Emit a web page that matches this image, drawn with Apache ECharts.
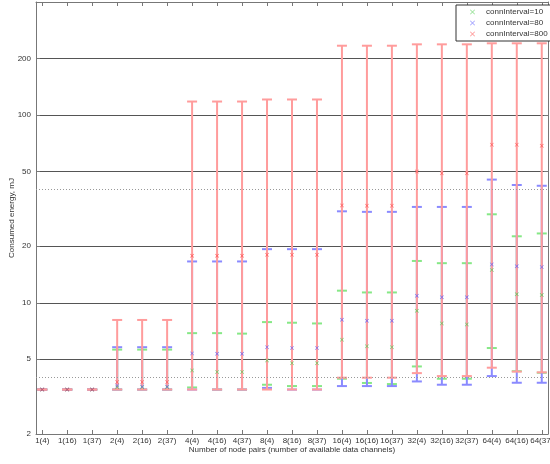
<!DOCTYPE html>
<html><head><meta charset="utf-8">
<script src="https://cdn.jsdelivr.net/npm/echarts@6/dist/echarts.min.js"></script>
<style>html,body{margin:0;padding:0;background:#fff}#c{width:550px;height:464px}</style>
</head><body><div id="c"></div>
<script>
const categories = ['1(4)','1(16)','1(37)','2(4)','2(16)','2(37)','4(4)','4(16)','4(37)','8(4)','8(16)','8(37)','16(4)','16(16)','16(37)','32(4)','32(16)','32(37)','64(4)','64(16)','64(37)'];
const yTicks = [2,5,10,20,50,100,200];
const refLines = [4,40];
const seriesNames = ['connInterval=10','connInterval=80','connInterval=800'];

const mean10  = [3.45,3.45,3.45, 3.55,3.55,3.55, 4.36,4.28,4.28, 4.93,4.77,4.77, 6.36,5.86,5.8, 9.07,7.76,7.67, 14.97,11.1,11.0];
const lower10 = [3.45,3.45,3.45, 3.45,3.45,3.45, 3.54,3.45,3.45, 3.66,3.6,3.6, 3.94,3.74,3.69, 4.58,3.94,3.94, 5.74,4.32,4.24];
const upper10 = [3.45,3.45,3.45, 5.63,5.63,5.63, 6.89,6.89,6.85, 7.89,7.83,7.76, 11.6,11.35,11.35, 16.7,16.25,16.25, 29.6,22.6,23.4];

const mean80  = [3.45,3.45,3.45, 3.62,3.58,3.58, 5.37,5.35,5.35, 5.8,5.75,5.75, 8.12,8.02,8.02, 10.9,10.7,10.7, 16.0,15.65,15.5];
const lower80 = [3.45,3.45,3.45, 3.45,3.45,3.45, 3.45,3.45,3.45, 3.52,3.45,3.45, 3.6,3.6,3.6, 3.81,3.66,3.66, 4.07,3.75,3.75];
const upper80 = [3.45,3.45,3.45, 5.8,5.8,5.8, 16.6,16.6,16.6, 19.3,19.3,19.3, 30.7,30.5,30.5, 32.4,32.4,32.4, 45.3,42.4,42.0];

const mean800  = [3.45,3.45,3.45, 3.78,3.78,3.78, 17.8,17.8,17.8, 18.0,18.0,18.0, 33.0,32.9,32.9, 50.0,48.9,48.9, 69.5,69.5,68.6];
const lower800 = [3.45,3.45,3.45, 3.45,3.45,3.45, 3.45,3.45,3.45, 3.45,3.45,3.45, 3.99,3.99,3.99, 4.22,4.07,4.07, 4.51,4.30,4.26];
const upper800 = [3.45,3.45,3.45, 8.1,8.1,8.1, 118,118,118, 121,121,121, 234,234,234, 238,238,238, 241,241,241];

const xIdx = categories.map((c,i)=>i+1);
const X_PATH = 'path://M0,1L1,0L5,4L9,0L10,1L6,5L10,9L9,10L5,6L1,10L0,9L4,5Z';
const lineColors = ['#86e886','#8a8aff','#ff9c9c'];
const markColors = ['#44cc44','#5555ff','#ff4444'];

function errSeries(lo, hi, color) {
  return {
    type: 'custom',
    silent: true,
    renderItem: function (params, api) {
      const x = api.value(0);
      const p1 = api.coord([x, api.value(1)]);
      const p2 = api.coord([x, api.value(2)]);
      const hw = 5;
      const st = {stroke: color, lineWidth: 2};
      return {type: 'group', children: [
        {type: 'line', shape: {x1: p1[0], y1: p1[1], x2: p2[0], y2: p2[1]}, style: st},
        {type: 'line', shape: {x1: p1[0]-hw, y1: p1[1], x2: p1[0]+hw, y2: p1[1]}, style: st},
        {type: 'line', shape: {x1: p2[0]-hw, y1: p2[1], x2: p2[0]+hw, y2: p2[1]}, style: st}
      ]};
    },
    encode: {x: 0, y: [1, 2]},
    data: xIdx.map((x,i)=>[x, lo[i], hi[i]])
  };
}
function meanSeries(name, m, color, extra) {
  return Object.assign({
    type: 'scatter', name: name, symbol: X_PATH, symbolSize: 4,
    itemStyle: {color: color, opacity: 0.8}, silent: true,
    data: xIdx.map((x,i)=>[x, m[i]])
  }, extra || {});
}

const chart = echarts.init(document.getElementById('c'));
const axisGray = '#777';
const font = 'Liberation Sans, Arial, sans-serif';
chart.setOption({
  animation: false,
  textStyle: {fontFamily: font},
  grid: {left: 36, right: 2, top: 2, bottom: 30, outerBoundsMode: 'none', containLabel: false},
  legend: {
    data: seriesNames, orient: 'vertical', left: 456, top: 5,
    padding: [3, 4, 3, 14], itemGap: 3, itemWidth: 5, itemHeight: 5,
    borderColor: '#333', borderWidth: 1, backgroundColor: '#fff',
    textStyle: {fontSize: 8, color: '#333', fontFamily: font, padding: [0,0,0,6]},
    itemStyle: {opacity: 0.6}
  },
  xAxis: [{
    type: 'value', min: 0.75, max: 21.25, position: 'bottom',
    name: 'Number of node pairs (number of available data channels)',
    nameLocation: 'middle', nameGap: 12, nameMoveOverlap: false,
    nameTextStyle: {fontSize: 8, color: '#333'},
    axisLine: {lineStyle: {color: axisGray}},
    axisTick: {inside: true, length: 4, customValues: xIdx, lineStyle: {color: axisGray}},
    axisLabel: {customValues: xIdx, fontSize: 8, color: '#333', margin: 3,
      formatter: v => categories[Math.round(v)-1] || ''},
    splitLine: {show: false}
  }, {
    type: 'value', min: 0.75, max: 21.25, position: 'top',
    axisLine: {lineStyle: {color: axisGray}},
    axisTick: {inside: true, length: 4, customValues: xIdx, lineStyle: {color: axisGray}},
    axisLabel: {show: false}, splitLine: {show: false}
  }],
  yAxis: [{
    type: 'log', logBase: 10, min: 2, max: 400, position: 'left',
    name: 'Consumed energy, mJ', nameLocation: 'middle', nameGap: 20, nameRotate: 90,
    nameMoveOverlap: false,
    nameTextStyle: {fontSize: 8, color: '#333'},
    axisLine: {show: true, lineStyle: {color: axisGray}},
    axisTick: {show: true, inside: true, length: 4, customValues: yTicks, lineStyle: {color: axisGray}},
    axisLabel: {customValues: yTicks, fontSize: 8, color: '#333', margin: 5},
    splitLine: {show: true, lineStyle: {color: '#555', width: 1}}
  }, {
    type: 'log', logBase: 10, min: 2, max: 400, position: 'right',
    axisLine: {show: true, lineStyle: {color: axisGray}},
    axisTick: {show: true, inside: true, length: 4, customValues: yTicks, lineStyle: {color: axisGray}},
    axisLabel: {show: false}, splitLine: {show: false}
  }],
  series: [
    errSeries(lower10, upper10, lineColors[0]),
    meanSeries(seriesNames[0], mean10, markColors[0], {
      markLine: {silent: true, symbol: 'none', label: {show: false},
        lineStyle: {color: '#999', type: [1, 2], width: 1},
        data: refLines.map(v => ({yAxis: v}))}
    }),
    errSeries(lower80, upper80, lineColors[1]),
    meanSeries(seriesNames[1], mean80, markColors[1]),
    errSeries(lower800, upper800, lineColors[2]),
    meanSeries(seriesNames[2], mean800, markColors[2])
  ]
});
</script></body></html>
